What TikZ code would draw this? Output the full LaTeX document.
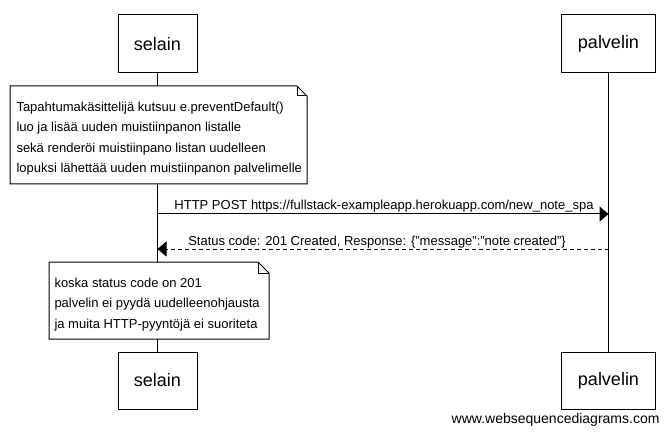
\documentclass[tikz,border=0pt]{standalone}
\usepackage{fontspec}
\setmainfont{Liberation Sans}
\usetikzlibrary{arrows.meta,calc}
\begin{document}
\begin{tikzpicture}[x=1pt,y=-1pt,
  line width=1pt,
  actor/.style={draw, fill=white, inner sep=0pt, font=\fontsize{18}{20}\selectfont},
  notebg/.style={draw=none, fill=white, inner sep=0pt, anchor=north west},
  notetext/.style={inner sep=0pt, anchor=north west, align=left, font=\fontsize{13}{20.5}\selectfont},
  msglabel/.style={inner sep=0pt, anchor=base, font=\fontsize{13}{15}\selectfont},
  msg/.style={-{Triangle[length=9pt,width=15pt]}},
  reply/.style={-{Triangle[length=9pt,width=15pt]}, dash pattern=on 4pt off 3pt},
  life/.style={draw}
]
\useasboundingbox[fill=white] (0,0) rectangle (670,433);

% participants
\node[actor, minimum width=79pt, minimum height=58pt] (s1) at (157.5,44) {selain};
\node[actor, minimum width=94pt, minimum height=58pt] (p1) at (608.5,44) {palvelin};
\node[actor, minimum width=79pt, minimum height=57pt] (s2) at (157.5,380.5) {selain};
\node[actor, minimum width=94pt, minimum height=57pt] (p2) at (608.5,380.5) {palvelin};

% lifelines
\draw[life] (s1.south) -- (s2.north);
\draw[life] (p1.south) -- (p2.north);

% note 1
\node[notebg, minimum width=296pt, minimum height=97pt] (n1) at (10,86) {};
\draw[fill=white] (n1.north west) -- ([xshift=-10pt]n1.north east) -- ([yshift=-10pt]n1.north east)
  -- (n1.south east) -- (n1.south west) -- cycle;
\draw ([xshift=-10pt]n1.north east) -- ([xshift=-10pt,yshift=-10pt]n1.north east) -- ([yshift=-10pt]n1.north east);
\node[notetext] (t1) at (16,101.5) {Tapahtumakäsittelijä kutsuu e.preventDefault()\\
luo ja lisää uuden muistiinpanon listalle\\
sekä renderöi muistiinpano listan uudelleen\\
lopuksi lähettää uuden muistiinpanon palvelimelle};

% messages
\coordinate (a1s) at (s1.south |- 0,214);
\coordinate (a1e) at (p1.south |- 0,214);
\draw[msg] (a1s) -- (a1e);
\node[msglabel] (l1) at ($(a1s)!0.5!(a1e) + (1,-4)$) {HTTP POST https://fullstack-exampleapp.herokuapp.com/new\_note\_spa};

\coordinate (a2s) at (p1.south |- 0,249);
\coordinate (a2e) at (s1.south |- 0,249);
\draw[reply] (a2s) -- (a2e);
\node[msglabel] (l2) at ($(a2s)!0.5!(a2e) + (-6,-4)$) {Status code: 201 Created, Response: \{"message":"note created"\}};

% note 2
\node[notebg, minimum width=219pt, minimum height=76pt] (n2) at (49,262) {};
\draw[fill=white] (n2.north west) -- ([xshift=-11pt]n2.north east) -- ([yshift=-11pt]n2.north east)
  -- (n2.south east) -- (n2.south west) -- cycle;
\draw ([xshift=-11pt]n2.north east) -- ([xshift=-11pt,yshift=-11pt]n2.north east) -- ([yshift=-11pt]n2.north east);
\node[notetext] (t2) at (54,277.5) {koska status code on 201\\
palvelin ei pyydä uudelleenohjausta\\
ja muita HTTP-pyyntöjä ei suoriteta};

% watermark
\node[inner sep=0pt, anchor=base east, font=\fontsize{14}{16}\selectfont] (wm) at (660,423) {www.websequencediagrams.com};
\end{tikzpicture}
\end{document}
